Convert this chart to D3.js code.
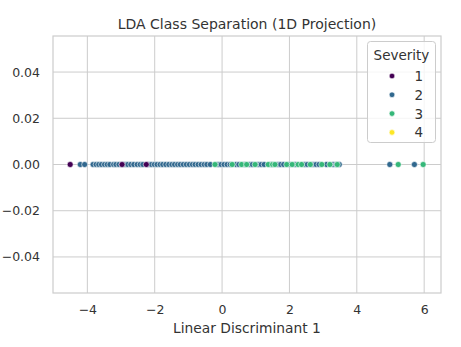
<!DOCTYPE html>
<html><head><meta charset="utf-8">
<script src="https://cdn.jsdelivr.net/npm/d3@7/dist/d3.min.js"></script>
<style>body{margin:0;background:#fff;} text{font-family:"DejaVu Sans",sans-serif;fill:#333333;}</style>
</head><body>
<svg id="c" width="461" height="347"></svg>
<script>
const title = "LDA Class Separation (1D Projection)";
const xLabel = "Linear Discriminant 1";
const severityLevels = [1, 2, 3, 4];
const levelColors = ["#440154", "#31688e", "#35b779", "#fde725"];
const xTicks = [-4, -2, 0, 2, 4, 6];
const yTicks = [-0.04, -0.02, 0.00, 0.02, 0.04];
const class1 = [-4.51, -2.97, -2.25];
const class2 = [-4.21, -4.08, -3.83, -3.74, -3.66, -3.58, -3.49, -3.41, -3.33, -3.22, -3.15, -3.06, -2.97, -2.88, -2.8, -2.71, -2.62, -2.52, -2.43, -2.35, -2.18, -2.1, -2.01, -1.93, -1.84, -1.76, -1.67, -1.58, -1.49, -1.41, -1.32, -1.24, -1.15, -1.06, -0.97, -0.88, -0.8, -0.71, -0.62, -0.53, -0.45, -0.35, -0.12, -0.03, 0.06, 0.15, 0.24, 0.41, 0.5, 0.66, 0.82, 0.9, 1.07, 1.16, 1.25, 1.45, 1.66, 1.74, 1.83, 2.0, 2.17, 2.45, 2.53, 2.7, 2.79, 2.88, 3.1, 3.3, 3.39, 3.48, 4.98, 5.71];
const class3 = [-0.21, 0.3, 0.58, 0.73, 0.98, 1.37, 1.5, 1.57, 1.92, 2.08, 2.26, 2.36, 2.62, 2.96, 3.2, 3.42, 5.23, 5.97];
const class4 = [];
const yValue = 0;

const svg = d3.select("#c");
const m = {l:53, r:441, t:36, b:293};
const x = d3.scaleLinear().domain([-5.02, 6.5]).range([m.l, m.r]);
const y = d3.scaleLinear().domain([-0.0556, 0.0556]).range([m.b, m.t]);

// grid
svg.append("g").selectAll("line").data(xTicks).join("line")
  .attr("x1", d=>x(d)).attr("x2", d=>x(d)).attr("y1", m.t).attr("y2", m.b)
  .attr("stroke", "#cccccc").attr("stroke-width", 1);
svg.append("g").selectAll("line").data(yTicks).join("line")
  .attr("y1", d=>y(d)).attr("y2", d=>y(d)).attr("x1", m.l).attr("x2", m.r)
  .attr("stroke", "#cccccc").attr("stroke-width", 1);
svg.append("rect").attr("x", m.l).attr("y", m.t).attr("width", m.r-m.l).attr("height", m.b-m.t)
  .attr("fill", "none").attr("stroke", "#cccccc").attr("stroke-width", 1.2);

// axes
const fmtX = d => d < 0 ? "\u2212" + Math.abs(d) : String(d);
const fmtY = d => { const s = Math.abs(d).toFixed(2); return d < -1e-9 ? "\u2212" + s : s; };
const xa = svg.append("g").attr("transform", `translate(0,${m.b})`)
  .call(d3.axisBottom(x).tickValues(xTicks).tickSize(0).tickPadding(12).tickFormat(fmtX));
const ya = svg.append("g").attr("transform", `translate(${m.l},0)`)
  .call(d3.axisLeft(y).tickValues(yTicks).tickSize(0).tickPadding(13).tickFormat(fmtY));
[xa, ya].forEach(g => { g.select(".domain").remove(); g.selectAll("text").attr("font-size", 12.5).attr("font-family", "DejaVu Sans").attr("fill", "#333333"); });

// title & label
svg.append("text").attr("x", (m.l+m.r)/2).attr("y", 29).attr("text-anchor", "middle").attr("font-size", 14).text(title);
svg.append("text").attr("x", (m.l+m.r)/2).attr("y", 333).attr("text-anchor", "middle").attr("font-size", 13.8).text(xLabel);

// points
const color = d3.scaleOrdinal().domain(severityLevels).range(levelColors);
const pts = [];
class2.forEach(v => pts.push({v, s:2}));
class3.forEach(v => pts.push({v, s:3}));
class4.forEach(v => pts.push({v, s:4}));
class1.forEach(v => pts.push({v, s:1}));
svg.append("g").selectAll("circle").data(pts).join("circle")
  .attr("cx", d=>x(d.v)).attr("cy", y(yValue)).attr("r", 3)
  .attr("fill", d=>color(d.s)).attr("stroke", "#fff").attr("stroke-width", 0.6);

// legend
const lg = svg.append("g");
lg.append("rect").attr("x", 367.5).attr("y", 41.5).attr("width", 68).attr("height", 101).attr("rx", 3)
  .attr("fill", "#fff").attr("fill-opacity", 0.8).attr("stroke", "#cccccc").attr("stroke-width", 1);
lg.append("text").attr("x", 401.5).attr("y", 60).attr("text-anchor", "middle").attr("font-size", 13.5).text("Severity");
severityLevels.forEach((s, i) => {
  const cy = 76 + i * 18.8;
  lg.append("circle").attr("cx", 392).attr("cy", cy).attr("r", 2.8).attr("fill", color(s)).attr("stroke", "#fff").attr("stroke-width", 0.6);
  lg.append("text").attr("x", 423).attr("y", cy + 5).attr("text-anchor", "end").attr("font-size", 13.5).text(s);
});
</script>
</body></html>
